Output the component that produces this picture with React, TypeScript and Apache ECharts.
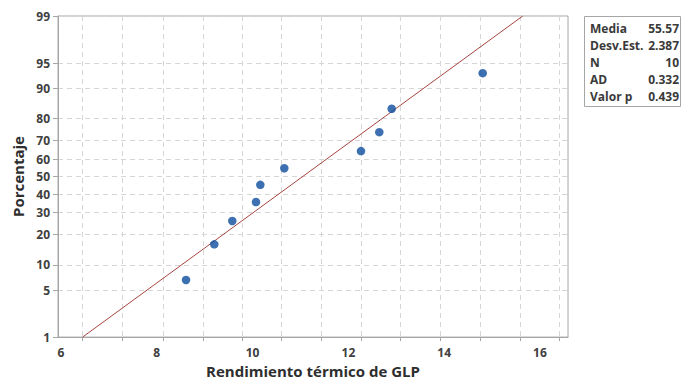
import React, { useEffect, useRef } from "react";
import * as echarts from "echarts";

// ---- data ----
const xTickLabels = [6, 8, 10, 12, 14, 16];
const xGridValues = [6.449, 7.284, 8.125, 8.969, 9.785, 10.593, 11.443, 12.265, 13.092, 13.923, 14.754, 15.578, 16.397];
const yTickPercents = [1, 5, 10, 20, 30, 40, 50, 60, 70, 80, 90, 95, 99];
const obsX = [8.61, 9.2, 9.576, 10.071, 10.161, 10.662, 12.263, 12.645, 12.904, 14.804];
const obsPct = [6.7, 16.3, 26.0, 35.6, 45.2, 54.8, 64.4, 74.0, 83.7, 93.3];
const fitX = [6.45, 15.64];
const fitPct = [1, 99];
const statLabels = ["Media", "Desv.Est.", "N", "AD", "Valor p"];
const statValues = ["55.57", "2.387", "10", "0.332", "0.439"];

// inverse standard normal CDF (Acklam)
function probit(p: number): number {
  const a = [-3.969683028665376e1, 2.209460984245205e2, -2.759285104469687e2, 1.38357751867269e2, -3.066479806614716e1, 2.506628277459239];
  const b = [-5.447609879822406e1, 1.615858368580409e2, -1.556989798598866e2, 6.680131188771972e1, -1.328068155288572e1];
  const c = [-7.784894002430293e-3, -3.223964580411365e-1, -2.400758277161838, -2.549732539343734, 4.374664141464968, 2.938163982698783];
  const d = [7.784695709041462e-3, 3.224671290700398e-1, 2.445134137142996, 3.754408661907416];
  const pl = 0.02425;
  if (p < pl) {
    const q = Math.sqrt(-2 * Math.log(p));
    return (((((c[0] * q + c[1]) * q + c[2]) * q + c[3]) * q + c[4]) * q + c[5]) / ((((d[0] * q + d[1]) * q + d[2]) * q + d[3]) * q + 1);
  }
  if (p <= 1 - pl) {
    const q = p - 0.5;
    const r = q * q;
    return ((((((a[0] * r + a[1]) * r + a[2]) * r + a[3]) * r + a[4]) * r + a[5]) * q) / (((((b[0] * r + b[1]) * r + b[2]) * r + b[3]) * r + b[4]) * r + 1);
  }
  const q = Math.sqrt(-2 * Math.log(1 - p));
  return -(((((c[0] * q + c[1]) * q + c[2]) * q + c[3]) * q + c[4]) * q + c[5]) / ((((d[0] * q + d[1]) * q + d[2]) * q + d[3]) * q + 1);
}

const FONT = "'Open Sans', 'Noto Sans', sans-serif";

export default function App() {
  const ref = useRef<HTMLDivElement>(null);

  useEffect(() => {
    if (!ref.current) return;
    const chart = echarts.init(ref.current, undefined, { renderer: "svg" });
    const yTickZ = yTickPercents.map((p) => probit(p / 100));
    const yMin = probit(0.01);
    const yMax = probit(0.99);

    const rowY0 = 28;
    const rowStep = 17.2;
    const statElems: any[] = [
      {
        type: "rect",
        shape: { x: 584.5, y: 16.5, width: 96, height: 90 },
        style: { fill: "#fff", stroke: "#a6a6a6", lineWidth: 1 },
      },
    ];
    statLabels.forEach((lab, i) => {
      statElems.push({
        type: "text",
        x: 590,
        y: rowY0 + i * rowStep,
        style: { text: lab, fontFamily: FONT, fontSize: 12, fontWeight: "bold", fill: "#3a3a3a", align: "left", verticalAlign: "middle" },
      });
      statElems.push({
        type: "text",
        x: 679,
        y: rowY0 + i * rowStep,
        style: { text: statValues[i], fontFamily: FONT, fontSize: 12, fontWeight: "bold", fill: "#3a3a3a", align: "right", verticalAlign: "middle" },
      });
    });

    chart.setOption({
      animation: false,
      backgroundColor: "#fff",
      grid: {
        left: 58,
        right: 114,
        top: 16,
        bottom: 45,
        show: true,
        borderColor: "#a6a6a6",
        borderWidth: 1,
        backgroundColor: "transparent",
      },
      xAxis: {
        type: "value",
        min: 5.937,
        max: 16.585,
        name: "Rendimiento térmico de GLP",
        nameLocation: "middle",
        nameGap: 24,
        nameTextStyle: { fontFamily: FONT, fontSize: 15, color: "#2e2e2e", fontWeight: "bold" },
        axisLine: { show: true, onZero: false, lineStyle: { color: "#a6a6a6", width: 1 } },
        axisTick: { show: true, length: 4, customValues: xGridValues, lineStyle: { color: "#a6a6a6" } },
        axisLabel: {
          customValues: xTickLabels,
          margin: 9,
          fontFamily: FONT,
          fontSize: 12,
          fontWeight: "bold",
          color: "#404040",
          formatter: (v: number) => String(Math.round(v)),
        },
        splitLine: { show: true, lineStyle: { color: "#d6d6d6", type: [5, 4], width: 1 } },
      },
      yAxis: {
        type: "value",
        min: yMin,
        max: yMax,
        name: "Porcentaje",
        nameLocation: "middle",
        nameGap: 31,
        nameTextStyle: { fontFamily: FONT, fontSize: 15, color: "#2e2e2e", fontWeight: "bold" },
        axisLine: { show: true, onZero: false, lineStyle: { color: "#a6a6a6", width: 1 } },
        axisTick: { show: true, length: 5, customValues: yTickZ, lineStyle: { color: "#a6a6a6" } },
        axisLabel: {
          customValues: yTickZ,
          margin: 8,
          fontFamily: FONT,
          fontSize: 12,
          fontWeight: "bold",
          color: "#404040",
          formatter: (v: number) => {
            let best = 0;
            let bd = Infinity;
            yTickZ.forEach((z, i) => {
              const dd = Math.abs(z - v);
              if (dd < bd) {
                bd = dd;
                best = i;
              }
            });
            return String(yTickPercents[best]);
          },
        },
        splitLine: { show: true, lineStyle: { color: "#d6d6d6", type: [5, 4], width: 1 } },
      },
      series: [
        {
          type: "line",
          data: fitX.map((x, i) => [x, probit(fitPct[i] / 100)]),
          symbol: "none",
          lineStyle: { color: "#a8443f", width: 1 },
          z: 2,
        },
        {
          type: "scatter",
          data: obsX.map((x, i) => [x, probit(obsPct[i] / 100)]),
          symbol: "circle",
          symbolSize: 8.5,
          itemStyle: { color: "#0b4c9d" },
          z: 3,
        },
      ],
      graphic: statElems,
    });
    return () => chart.dispose();
  }, []);

  return <div ref={ref} style={{ width: 682, height: 383, position: "absolute", left: 0, top: 0 }} />;
}
